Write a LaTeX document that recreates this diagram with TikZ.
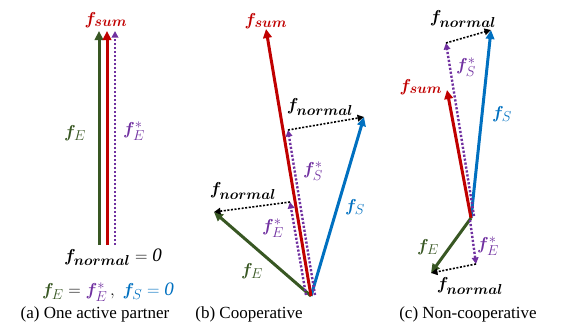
\documentclass[tikz,border=0pt]{standalone}
\usepackage{amsmath,bm}
\usepackage{fontspec}
\setmainfont{Liberation Serif}
\usepackage{tikz}
\usetikzlibrary{arrows.meta}
\definecolor{fe}{RGB}{56,87,35}
\definecolor{fsum}{RGB}{192,0,0}
\definecolor{fs}{RGB}{0,112,192}
\definecolor{fstar}{RGB}{112,48,160}
\tikzset{
  force/.style={line width=3pt,-{Triangle[length=9pt,width=8.5pt]}},
  proj/.style={fstar,line width=2.4pt,dash pattern=on 2.2pt off 1.8pt,-{Triangle[length=6.5pt,width=6.5pt]}},
  nrm/.style={black,line width=1.6pt,dash pattern=on 2pt off 1.6pt,-{Triangle[length=6.5pt,width=6.5pt]}},
  lbl/.style={font=\fontsize{19}{22}\selectfont,inner sep=0pt},
  capt/.style={font=\fontsize{17}{19}\selectfont,inner sep=0pt}
}

\begin{document}
\begin{tikzpicture}[x=1pt,y=-1pt]
\useasboundingbox (0,0) rectangle (572,325);
\begin{scope}
\coordinate (aE0) at (99,245);
\coordinate (aE) at (99,31);
\coordinate (aS0) at (107,245);
\coordinate (aS) at (107,31);
\coordinate (aP0) at (115,245);
\coordinate (aP) at (115,31);
\draw[force,fe] (aE0) -- (aE);
\draw[force,fsum] (aS0) -- (aS);
\draw[proj] (aP0) -- (aP);
\node[lbl,fsum] (asum) at (106,20) {$\bm{f}_{\bm{sum}}$};
\node[lbl,fe] (aEl) at (75,133) {$\bm{f}_{E}$};
\node[lbl,fstar] (aEsl) at (134,131) {$\bm{f}_{E}^{*}$};
\node[lbl] (anrm) at (113,257) {$\bm{f}_{\bm{normal}}=\mathit{0}$};
\node[lbl] (aeq) at (108,292) {$\color{fe}\bm{f}_{E}\color{black}=\color{fstar}\bm{f}_{E}^{*}\color{black}\,,\ \color{fs}\bm{f}_{S}=\mathit{0}$};
\node[capt] (acap) at (95,314) {(a) One active partner};
\end{scope}
\begin{scope}
\coordinate (bO) at (311,296);
\coordinate (bSum) at (266,29);
\coordinate (bS) at (364,117);
\coordinate (bE) at (214,212);
\coordinate (bSs0) at (315,295);
\coordinate (bSs) at (288,130);
\coordinate (bEs0) at (306,295);
\coordinate (bEs) at (290,202);
\draw[force,fe] (bO) -- (bE);
\draw[force,fs] (bO) -- (bS);
\draw[force,fsum] (bO) -- (bSum);
\draw[proj] (bSs0) -- (bSs);
\draw[proj] (bEs0) -- (bEs);
\draw[nrm] (bSs) -- (bS);
\draw[nrm] (bEs) -- (bE);
\node[lbl,fsum] (bsuml) at (266,21) {$\bm{f}_{\bm{sum}}$};
\node[lbl] (bn1) at (320,107) {$\bm{f}_{\bm{normal}}$};
\node[lbl,fstar] (bSsl) at (313,171) {$\bm{f}_{S}^{*}$};
\node[lbl] (bn2) at (243,191) {$\bm{f}_{\bm{normal}}$};
\node[lbl,fs] (bSl) at (355,207) {$\bm{f}_{S}$};
\node[lbl,fstar] (bEsl) at (273,228) {$\bm{f}_{E}^{*}$};
\node[lbl,fe] (bEl) at (252,271) {$\bm{f}_{E}$};
\node[capt] (bcap) at (249,314) {(b) Cooperative};
\end{scope}
\begin{scope}
\coordinate (cO) at (471,218);
\coordinate (cS) at (491,30);
\coordinate (cSum) at (447,90);
\coordinate (cE) at (431,273);
\coordinate (cSs0) at (474,216);
\coordinate (cSs) at (446,43);
\coordinate (cEs0) at (470,220);
\coordinate (cEs) at (476,264);
\draw[force,fs] (cO) -- (cS);
\draw[force,fsum] (cO) -- (cSum);
\draw[force,fe] (cO) -- (cE);
\draw[proj] (cSs0) -- (cSs);
\draw[proj] (cEs0) -- (cEs);
\draw[nrm] (cSs) -- (cS);
\draw[nrm] (cEs) -- (cE);
\node[lbl] (cn1) at (463,19) {$\bm{f}_{\bm{normal}}$};
\node[lbl,fstar] (cSsl) at (466,67) {$\bm{f}_{S}^{*}$};
\node[lbl,fsum] (csuml) at (421,87) {$\bm{f}_{\bm{sum}}$};
\node[lbl,fs] (cSl) at (502,114) {$\bm{f}_{S}$};
\node[lbl,fe] (cEl) at (428,247) {$\bm{f}_{E}$};
\node[lbl,fstar] (cEsl) at (488,246) {$\bm{f}_{E}^{*}$};
\node[lbl] (cn2) at (470,286) {$\bm{f}_{\bm{normal}}$};
\node[capt] (ccap) at (468,314) {(c) Non-cooperative};
\end{scope}
\end{tikzpicture}
\end{document}
